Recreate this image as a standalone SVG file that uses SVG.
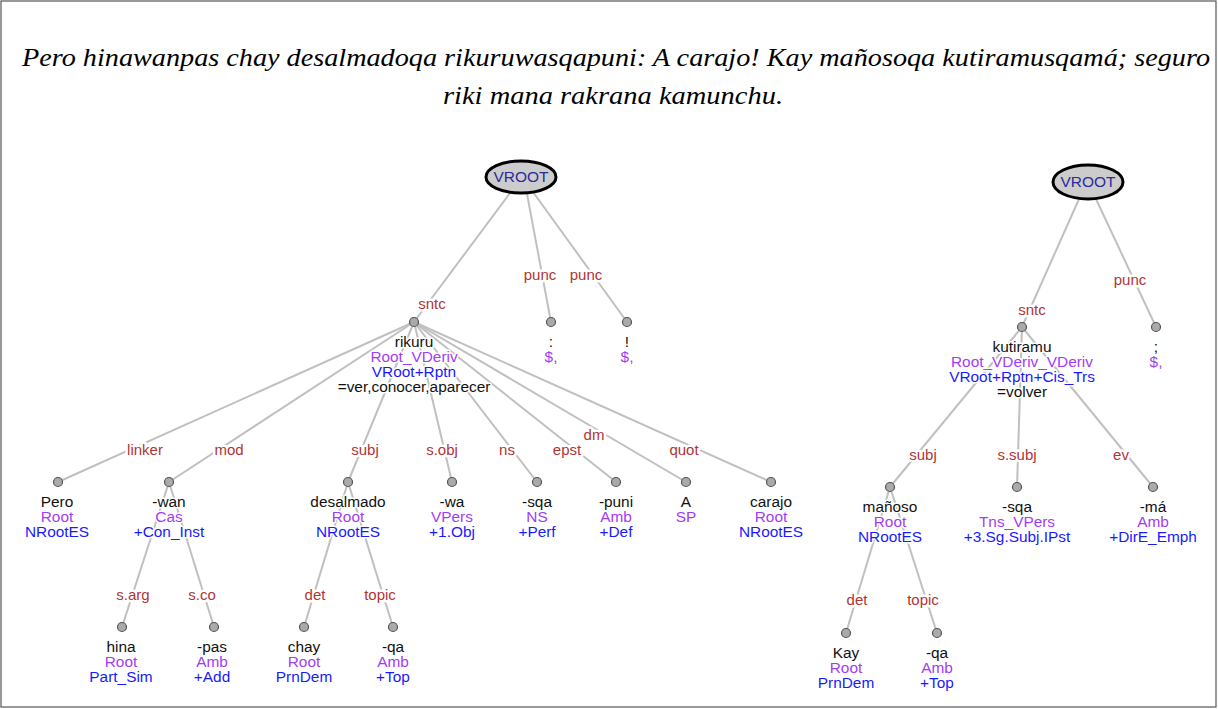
<svg xmlns="http://www.w3.org/2000/svg" width="1218" height="709" viewBox="0 0 1218 709">
<style>
.edge{stroke:#c0c0c0;stroke-width:2;fill:none}
.lbl{font-family:"Liberation Sans",Arial,sans-serif;font-size:15px;fill:#b03535;text-anchor:middle;stroke:#fff;stroke-width:5px;stroke-linejoin:round;paint-order:stroke}
.dot{fill:#aaaaaa;stroke:#555;stroke-width:1.2}
.t{font-family:"Liberation Sans",Arial,sans-serif;font-size:15.4px;text-anchor:middle;stroke:#fff;stroke-width:3px;stroke-linejoin:round;paint-order:stroke}
.w{fill:#111}
.p{fill:#a33cf5}
.b{fill:#1a1aff}
.root ellipse{fill:#cccccc;stroke:#000;stroke-width:3}
.root text{font-family:"Liberation Sans",Arial,sans-serif;font-size:15.5px;fill:#2a2a99;text-anchor:middle}
.title{font-family:"Liberation Serif","Times New Roman",serif;font-style:italic;font-size:26px;fill:#000;text-anchor:middle}
</style>
<rect x="0" y="0" width="1218" height="709" fill="#fff"/>
<rect x="1" y="1" width="1215" height="706" fill="none" stroke="#555" stroke-width="1.2"/>
<text class="title" x="616" y="66" textLength="1188" lengthAdjust="spacingAndGlyphs">Pero hinawanpas chay desalmadoqa rikuruwasqapuni: A carajo! Kay mañosoqa kutiramusqamá; seguro</text>
<text class="title" x="613" y="104" textLength="340" lengthAdjust="spacingAndGlyphs">riki mana rakrana kamunchu.</text>

<g id="connectors">
<line class="edge" x1="510" y1="193" x2="414" y2="322"/>
<line class="edge" x1="527" y1="194" x2="551" y2="322"/>
<line class="edge" x1="533" y1="192" x2="627" y2="322"/>
<line class="edge" x1="414" y1="322" x2="58" y2="482"/>
<line class="edge" x1="414" y1="322" x2="169" y2="482"/>
<line class="edge" x1="414" y1="322" x2="348" y2="482"/>
<line class="edge" x1="414" y1="322" x2="452" y2="482"/>
<line class="edge" x1="414" y1="322" x2="537" y2="482"/>
<line class="edge" x1="414" y1="322" x2="616" y2="482"/>
<line class="edge" x1="414" y1="322" x2="686" y2="482"/>
<line class="edge" x1="414" y1="322" x2="771" y2="482"/>
<line class="edge" x1="169" y1="482" x2="122" y2="627"/>
<line class="edge" x1="169" y1="482" x2="214" y2="627"/>
<line class="edge" x1="348" y1="482" x2="304" y2="627"/>
<line class="edge" x1="348" y1="482" x2="393" y2="627"/>
<line class="edge" x1="1079" y1="199" x2="1022" y2="327"/>
<line class="edge" x1="1096" y1="199" x2="1156" y2="327"/>
<line class="edge" x1="1022" y1="327" x2="890" y2="487"/>
<line class="edge" x1="1022" y1="327" x2="1017" y2="487"/>
<line class="edge" x1="1022" y1="327" x2="1153" y2="487"/>
<line class="edge" x1="890" y1="487" x2="846" y2="633"/>
<line class="edge" x1="890" y1="487" x2="937" y2="633"/>
<text class="lbl" x="432" y="309">sntc</text>
<text class="lbl" x="540" y="280">punc</text>
<text class="lbl" x="586" y="280">punc</text>
<text class="lbl" x="145" y="455">linker</text>
<text class="lbl" x="229" y="455">mod</text>
<text class="lbl" x="365" y="455">subj</text>
<text class="lbl" x="442" y="455">s.obj</text>
<text class="lbl" x="507" y="455">ns</text>
<text class="lbl" x="567" y="455">epst</text>
<text class="lbl" x="594" y="440">dm</text>
<text class="lbl" x="684" y="455">quot</text>
<text class="lbl" x="133" y="600">s.arg</text>
<text class="lbl" x="202" y="600">s.co</text>
<text class="lbl" x="315" y="600">det</text>
<text class="lbl" x="380" y="600">topic</text>
<text class="lbl" x="1032" y="315">sntc</text>
<text class="lbl" x="1130" y="285">punc</text>
<text class="lbl" x="923" y="460">subj</text>
<text class="lbl" x="1017" y="460">s.subj</text>
<text class="lbl" x="1121" y="460">ev</text>
<text class="lbl" x="857" y="605">det</text>
<text class="lbl" x="923" y="605">topic</text>
</g>

<g id="vroot1" class="root"><ellipse cx="521" cy="177" rx="35" ry="16"/><text x="521" y="182">VROOT</text></g>
<g id="vroot2" class="root"><ellipse cx="1088" cy="182" rx="35" ry="17"/><text x="1088" y="187">VROOT</text></g>

<g id="rikuru"><circle class="dot" cx="414" cy="322" r="4.5"/>
<text class="t w" x="414" y="347">rikuru</text><text class="t p" x="414" y="362">Root_VDeriv</text><text class="t b" x="414" y="377">VRoot+Rptn</text><text class="t w" x="414" y="392">=ver,conocer,aparecer</text></g>
<g id="colon"><circle class="dot" cx="551" cy="322" r="4.5"/>
<text class="t w" x="551" y="347">:</text><text class="t p" x="551" y="362">$,</text></g>
<g id="excl"><circle class="dot" cx="627" cy="322" r="4.5"/>
<text class="t w" x="627" y="347">!</text><text class="t p" x="627" y="362">$,</text></g>

<g id="pero"><circle class="dot" cx="58" cy="482" r="4.5"/>
<text class="t w" x="57" y="507">Pero</text><text class="t p" x="57" y="522">Root</text><text class="t b" x="57" y="537">NRootES</text></g>
<g id="wan"><circle class="dot" cx="169" cy="482" r="4.5"/>
<text class="t w" x="169" y="507">-wan</text><text class="t p" x="169" y="522">Cas</text><text class="t b" x="169" y="537">+Con_Inst</text></g>
<g id="desalmado"><circle class="dot" cx="348" cy="482" r="4.5"/>
<text class="t w" x="348" y="507">desalmado</text><text class="t p" x="348" y="522">Root</text><text class="t b" x="348" y="537">NRootES</text></g>
<g id="wa"><circle class="dot" cx="452" cy="482" r="4.5"/>
<text class="t w" x="452" y="507">-wa</text><text class="t p" x="452" y="522">VPers</text><text class="t b" x="452" y="537">+1.Obj</text></g>
<g id="sqa1"><circle class="dot" cx="537" cy="482" r="4.5"/>
<text class="t w" x="537" y="507">-sqa</text><text class="t p" x="537" y="522">NS</text><text class="t b" x="537" y="537">+Perf</text></g>
<g id="puni"><circle class="dot" cx="616" cy="482" r="4.5"/>
<text class="t w" x="616" y="507">-puni</text><text class="t p" x="616" y="522">Amb</text><text class="t b" x="616" y="537">+Def</text></g>
<g id="a"><circle class="dot" cx="686" cy="482" r="4.5"/>
<text class="t w" x="686" y="507">A</text><text class="t p" x="686" y="522">SP</text></g>
<g id="carajo"><circle class="dot" cx="771" cy="482" r="4.5"/>
<text class="t w" x="771" y="507">carajo</text><text class="t p" x="771" y="522">Root</text><text class="t b" x="771" y="537">NRootES</text></g>

<g id="hina"><circle class="dot" cx="122" cy="627" r="4.5"/>
<text class="t w" x="121" y="652">hina</text><text class="t p" x="121" y="667">Root</text><text class="t b" x="121" y="682">Part_Sim</text></g>
<g id="pas"><circle class="dot" cx="214" cy="627" r="4.5"/>
<text class="t w" x="212" y="652">-pas</text><text class="t p" x="212" y="667">Amb</text><text class="t b" x="212" y="682">+Add</text></g>
<g id="chay"><circle class="dot" cx="304" cy="627" r="4.5"/>
<text class="t w" x="304" y="652">chay</text><text class="t p" x="304" y="667">Root</text><text class="t b" x="304" y="682">PrnDem</text></g>
<g id="qa1"><circle class="dot" cx="393" cy="627" r="4.5"/>
<text class="t w" x="393" y="652">-qa</text><text class="t p" x="393" y="667">Amb</text><text class="t b" x="393" y="682">+Top</text></g>

<g id="kutiramu"><circle class="dot" cx="1022" cy="327" r="4.5"/>
<text class="t w" x="1022" y="352">kutiramu</text><text class="t p" x="1022" y="367">Root_VDeriv_VDeriv</text><text class="t b" x="1022" y="382">VRoot+Rptn+Cis_Trs</text><text class="t w" x="1022" y="397">=volver</text></g>
<g id="semicolon"><circle class="dot" cx="1156" cy="327" r="4.5"/>
<text class="t w" x="1156" y="352">;</text><text class="t p" x="1156" y="367">$,</text></g>
<g id="manoso"><circle class="dot" cx="890" cy="487" r="4.5"/>
<text class="t w" x="890" y="512">mañoso</text><text class="t p" x="890" y="527">Root</text><text class="t b" x="890" y="542">NRootES</text></g>
<g id="sqa2"><circle class="dot" cx="1017" cy="487" r="4.5"/>
<text class="t w" x="1017" y="512">-sqa</text><text class="t p" x="1017" y="527">Tns_VPers</text><text class="t b" x="1017" y="542">+3.Sg.Subj.IPst</text></g>
<g id="ma"><circle class="dot" cx="1153" cy="487" r="4.5"/>
<text class="t w" x="1153" y="512">-má</text><text class="t p" x="1153" y="527">Amb</text><text class="t b" x="1153" y="542">+DirE_Emph</text></g>
<g id="kay"><circle class="dot" cx="846" cy="633" r="4.5"/>
<text class="t w" x="846" y="658">Kay</text><text class="t p" x="846" y="673">Root</text><text class="t b" x="846" y="688">PrnDem</text></g>
<g id="qa2"><circle class="dot" cx="937" cy="633" r="4.5"/>
<text class="t w" x="937" y="658">-qa</text><text class="t p" x="937" y="673">Amb</text><text class="t b" x="937" y="688">+Top</text></g>
</svg>
